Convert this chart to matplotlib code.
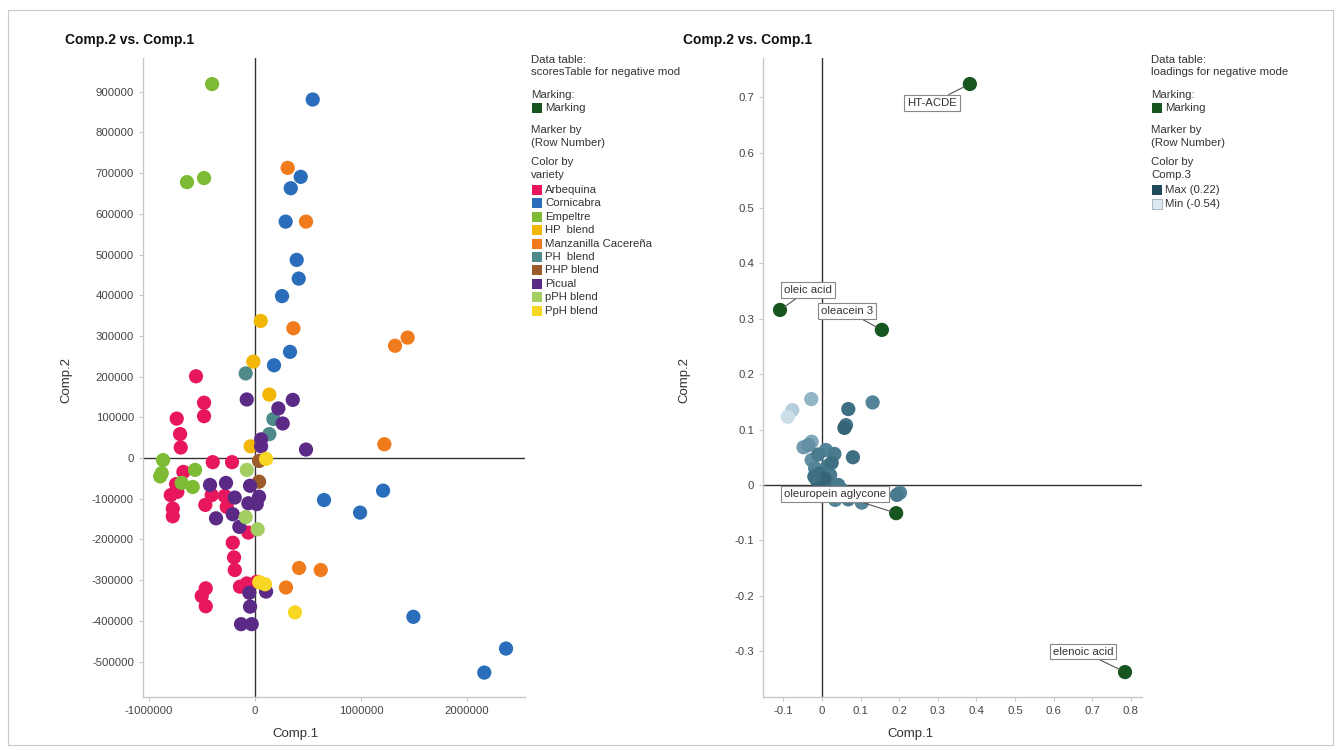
import matplotlib
matplotlib.use("Agg")
import matplotlib.pyplot as plt
from matplotlib.patches import Rectangle
from matplotlib.colors import LinearSegmentedColormap
import numpy as np

plt.rcParams['font.family'] = ['Liberation Sans', 'DejaVu Sans']

# ---------------- Left panel data (scores) ----------------
varieties = ["Arbequina", "Cornicabra", "Empeltre", "HP  blend", "Manzanilla Cacereña",
             "PH  blend", "PHP blend", "Picual", "pPH blend", "PpH blend"]
variety_colors = ["#e8175d", "#2a6ebb", "#7dbb35", "#f2b705", "#f07b1d",
                  "#4f8a8b", "#9c5b2a", "#5b2a86", "#a3cf62", "#f7d723"]

arbequina_x = [-557e3, -481e3, -481e3, -739e3, -707e3, -701e3, -399e3, -217e3, -676e3, -745e3,
               -733e3, -795e3, -409e3, -469e3, -286e3, -267e3, -776e3, -776e3, -63e3, -210e3,
               -198e3, -191e3, -465e3, -503e3, -465e3, -142e3, -78e3, 16e3]
arbequina_y = [201e3, 136e3, 103e3, 97e3, 59e3, 26e3, -10e3, -10e3, -34e3, -64e3,
               -83e3, -91e3, -91e3, -115e3, -93e3, -120e3, -124e3, -143e3, -183e3, -208e3,
               -244e3, -275e3, -320e3, -339e3, -364e3, -316e3, -308e3, -304e3]
cornicabra_x = [544e3, 431e3, 337e3, 289e3, 393e3, 412e3, 255e3, 330e3, 179e3, 651e3,
                991e3, 1208e3, 1494e3, 2368e3, 2163e3]
cornicabra_y = [881e3, 691e3, 663e3, 581e3, 487e3, 441e3, 398e3, 261e3, 228e3, -103e3,
                -134e3, -80e3, -390e3, -468e3, -527e3]
empeltre_x = [-405e3, -642e3, -481e3, -868e3, -880e3, -895e3, -692e3, -566e3, -588e3]
empeltre_y = [919e3, 678e3, 688e3, -5e3, -37e3, -45e3, -61e3, -29e3, -71e3]
hp_x = [54e3, -16e3, 135e3, -41e3]
hp_y = [337e3, 237e3, 156e3, 29e3]
manz_x = [308e3, 481e3, 362e3, 1440e3, 1321e3, 1220e3, 415e3, 620e3, 292e3]
manz_y = [713e3, 581e3, 319e3, 296e3, 276e3, 34e3, -270e3, -275e3, -318e3]
ph_x = [-88e3, 173e3, 135e3]
ph_y = [208e3, 96e3, 59e3]
php_x = [38e3, 38e3]
php_y = [-7e3, -58e3]
picual_x = [-78e3, 220e3, 356e3, 261e3, 57e3, 57e3, 481e3, -425e3, -274e3, -47e3,
            -192e3, 38e3, -63e3, 16e3, -210e3, -368e3, -148e3, -54e3, 104e3, -47e3,
            -132e3, -31e3]
picual_y = [144e3, 122e3, 143e3, 85e3, 46e3, 29e3, 21e3, -66e3, -61e3, -68e3,
            -97e3, -95e3, -111e3, -113e3, -138e3, -148e3, -169e3, -331e3, -328e3, -365e3,
            -408e3, -408e3]
pph_x = [-78e3, -88e3, 25e3]
pph_y = [-29e3, -145e3, -175e3]
ppH_x = [104e3, 94e3, 377e3, 40e3]
ppH_y = [-2e3, -310e3, -379e3, -305e3]

scores_x = [arbequina_x, cornicabra_x, empeltre_x, hp_x, manz_x, ph_x, php_x, picual_x, pph_x, ppH_x]
scores_y = [arbequina_y, cornicabra_y, empeltre_y, hp_y, manz_y, ph_y, php_y, picual_y, pph_y, ppH_y]

left_xticks = [-1000000, 0, 1000000, 2000000]
left_yticks = [-500000, -400000, -300000, -200000, -100000, 0, 100000, 200000, 300000,
               400000, 500000, 600000, 700000, 800000, 900000]

# ---------------- Right panel data (loadings) ----------------
load_x = [-0.028, -0.077, -0.089, 0.068, 0.131, 0.062, 0.058, -0.027, -0.048, 0.010,
          0.032, 0.080, -0.027, 0.014, -0.018, -0.005, 0.021, -0.014, 0.012, 0.042,
          0.003, 0.034, 0.068, 0.103, 0.202, 0.194, -0.035, -0.010, 0.025, 0.005,
          -0.020, 0.050, 0.015, -0.002]
load_y = [0.155, 0.135, 0.123, 0.137, 0.149, 0.108, 0.103, 0.078, 0.068, 0.063,
          0.056, 0.050, 0.045, 0.034, 0.030, 0.021, 0.018, 0.009, 0.006, 0.000,
          -0.003, -0.027, -0.026, -0.032, -0.014, -0.018, 0.072, 0.055, 0.040, 0.012,
          0.015, -0.008, -0.012, -0.020]
load_c3 = [-0.25, -0.40, -0.50, 0.05, -0.05, 0.02, 0.10, -0.20, -0.15, -0.05,
           0.00, 0.05, -0.10, 0.00, -0.05, 0.05, 0.00, 0.10, 0.05, 0.00,
           0.10, -0.05, 0.00, -0.05, -0.05, 0.00, -0.10, 0.00, 0.05, 0.10,
           0.05, 0.00, 0.05, 0.10]

marked_names = ["HT-ACDE", "oleic acid", "oleacein 3", "oleuropein aglycone", "elenoic acid"]
marked_x = [0.383, -0.109, 0.155, 0.192, 0.785]
marked_y = [0.724, 0.316, 0.280, -0.051, -0.338]
label_x = [0.285, -0.036, 0.065, 0.034, 0.676]
label_y = [0.690, 0.352, 0.314, -0.016, -0.301]

right_xticks = [-0.1, 0, 0.1, 0.2, 0.3, 0.4, 0.5, 0.6, 0.7, 0.8]
right_xlabels = ["-0.1", "0", "0.1", "0.2", "0.3", "0.4", "0.5", "0.6", "0.7", "0.8"]
right_yticks = [-0.3, -0.2, -0.1, 0, 0.1, 0.2, 0.3, 0.4, 0.5, 0.6, 0.7]
right_ylabels = ["-0.3", "-0.2", "-0.1", "0", "0.1", "0.2", "0.3", "0.4", "0.5", "0.6", "0.7"]

# ---------------- Figure ----------------
W, H = 1341, 750
fig = plt.figure(figsize=(W / 100, H / 100), dpi=100)
fig.patch.set_facecolor("white")
fig.add_artist(Rectangle((8 / W, 5 / H), (1333 - 8) / W, (740 - 5) / H, transform=fig.transFigure,
                         fill=False, edgecolor="#c8c8c8", lw=0.8))

MARK = "#17561f"
TXT = "#333333"
TICK = "#444444"
MS = 105
FS = 8.2


def style_axes(ax):
    for s in ["top", "right"]:
        ax.spines[s].set_visible(False)
    for s in ["left", "bottom"]:
        ax.spines[s].set_color("#c8c8c8")
        ax.spines[s].set_linewidth(1.0)
    ax.tick_params(axis="both", colors="#c8c8c8", labelcolor=TICK, labelsize=FS, length=3, width=0.8)
    ax.axhline(0, color="#333333", lw=1.0, zorder=1)
    ax.axvline(0, color="#333333", lw=1.0, zorder=1)


# Left axes
axL = fig.add_axes([143 / W, 1 - 697 / H, (525 - 143) / W, (697 - 58) / H])
style_axes(axL)
for xs, ys, c in zip(scores_x, scores_y, variety_colors):
    axL.scatter(xs, ys, s=MS, color=c, edgecolors="none", zorder=3)
axL.set_xlim(-1.057e6, 2.547e6)
axL.set_ylim(-5.87e5, 9.83e5)
axL.set_xticks(left_xticks)
axL.set_xticklabels([str(v) for v in left_xticks])
axL.set_yticks(left_yticks)
axL.set_yticklabels([str(v) for v in left_yticks])
axL.set_xlabel("Comp.1", fontsize=9.5, color=TXT)
axL.xaxis.set_label_coords((295 - 143) / (525 - 143), -0.048)
axL.set_ylabel("Comp.2", fontsize=9.5, color=TXT)
axL.yaxis.set_label_coords(-(143 - 72) / (525 - 143), (697 - 380) / (697 - 58))
fig.text(65 / W, 1 - 40 / H, "Comp.2 vs. Comp.1", fontsize=10, fontweight="bold", color="#111111",
         va="center", ha="left")

# Right axes
cmap = LinearSegmentedColormap.from_list("c3", ["#d4e5ee", "#9dbccb", "#4f8196", "#1e4a5b"])
axR = fig.add_axes([763 / W, 1 - 697 / H, (1142 - 763) / W, (697 - 58) / H])
style_axes(axR)
axR.scatter(load_x, load_y, s=MS, c=load_c3, cmap=cmap, vmin=-0.54, vmax=0.22,
            edgecolors="none", zorder=3)
axR.scatter(marked_x, marked_y, s=MS, color=MARK, edgecolors="none", zorder=4)
for name, px, py, lx, ly in zip(marked_names, marked_x, marked_y, label_x, label_y):
    axR.annotate(name, xy=(px, py), xytext=(lx, ly), fontsize=FS, color=TXT,
                 ha="center", va="center", zorder=5,
                 bbox=dict(boxstyle="square,pad=0.25", fc="white", ec="#888888", lw=0.8),
                 arrowprops=dict(arrowstyle="-", color="#555555", lw=0.8, shrinkA=0, shrinkB=4))
axR.set_xlim(-0.153, 0.829)
axR.set_ylim(-0.383, 0.771)
axR.set_xticks(right_xticks)
axR.set_xticklabels(right_xlabels)
axR.set_yticks(right_yticks)
axR.set_yticklabels(right_ylabels)
axR.set_xlabel("Comp.1", fontsize=9.5, color=TXT)
axR.xaxis.set_label_coords((910 - 763) / (1142 - 763), -0.048)
axR.set_ylabel("Comp.2", fontsize=9.5, color=TXT)
axR.yaxis.set_label_coords(-(763 - 690) / (1142 - 763), (697 - 380) / (697 - 58))
fig.text(683 / W, 1 - 40 / H, "Comp.2 vs. Comp.1", fontsize=10, fontweight="bold", color="#111111",
         va="center", ha="left")


# Legends
def legend_block(x0, header_lines, entries):
    for text, ypix in header_lines:
        fig.text(x0 / W, 1 - ypix / H, text, fontsize=FS, color=TXT, va="center", ha="left")
    for text, col, ypix, ec in entries:
        fig.add_artist(Rectangle(((x0 + 1) / W, 1 - (ypix + 5) / H), 10 / W, 10 / H,
                                 transform=fig.transFigure, facecolor=col, edgecolor=ec, lw=0.6))
        fig.text((x0 + 14) / W, 1 - ypix / H, text, fontsize=FS, color=TXT, va="center", ha="left")


left_header = [("Data table:", 60), ("scoresTable for negative mod", 72), ("Marking:", 95),
               ("Marker by", 130), ("(Row Number)", 143), ("Color by", 162), ("variety", 175)]
left_entries = [("Marking", MARK, 108, "none")]
for i, (v, c) in enumerate(zip(varieties, variety_colors)):
    left_entries.append((v, c, 190 + i * 13.4, "none"))
legend_block(531, left_header, left_entries)

right_header = [("Data table:", 60), ("loadings for negative mode", 72), ("Marking:", 95),
                ("Marker by", 130), ("(Row Number)", 143), ("Color by", 162), ("Comp.3", 175)]
right_entries = [("Marking", MARK, 108, "none"), ("Max (0.22)", "#1e4a5b", 190, "none"),
                 ("Min (-0.54)", "#dce9f0", 204, "#9ab0bc")]
legend_block(1151, right_header, right_entries)

fig.savefig("out.png", dpi=100, facecolor="white")
